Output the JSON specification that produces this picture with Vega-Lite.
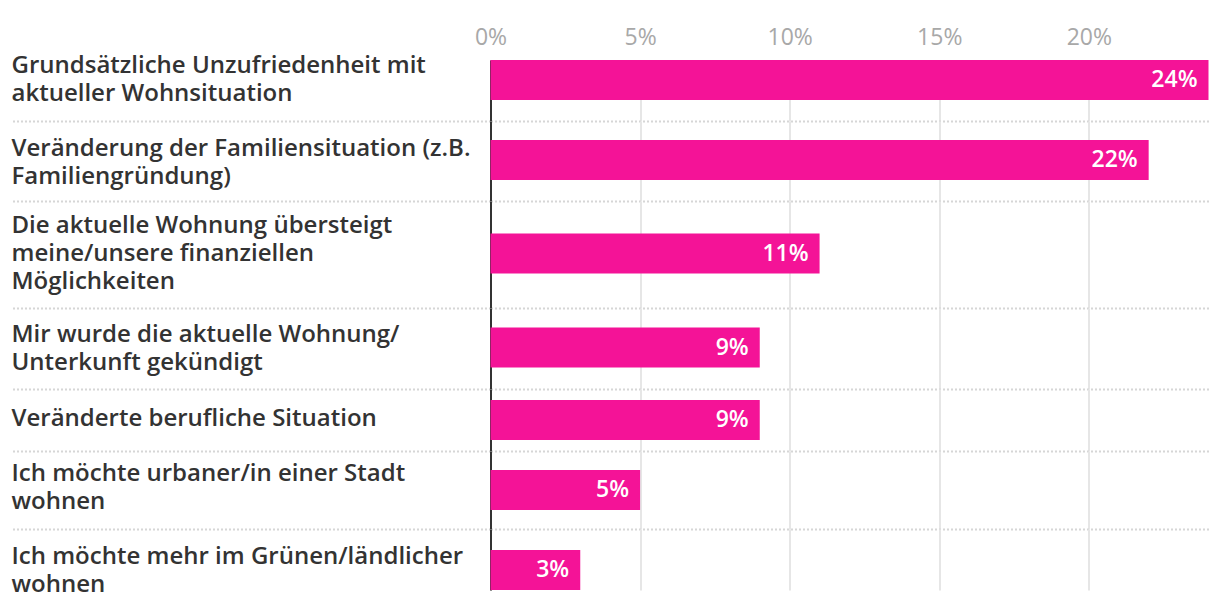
{
  "$schema": "https://vega.github.io/schema/vega-lite/v6.json",
  "padding": {"left": 10.5, "top": 26, "right": 5, "bottom": 5},
  "background": "white",
  "data": {"values": [
    {"id": 1, "label": "Grundsätzliche Unzufriedenheit mit|aktueller Wohnsituation", "value": 0.24},
    {"id": 2, "label": "Veränderung der Familiensituation (z.B.|Familiengründung)", "value": 0.22},
    {"id": 3, "label": "Die aktuelle Wohnung übersteigt|meine/unsere finanziellen|Möglichkeiten", "value": 0.11},
    {"id": 4, "label": "Mir wurde die aktuelle Wohnung/|Unterkunft gekündigt", "value": 0.09},
    {"id": 5, "label": "Veränderte berufliche Situation", "value": 0.09},
    {"id": 6, "label": "Ich möchte urbaner/in einer Stadt|wohnen", "value": 0.05},
    {"id": 7, "label": "Ich möchte mehr im Grünen/ländlicher|wohnen", "value": 0.03}
  ]},
  "spacing": 0,
  "bounds": "flush",
  "vconcat": [
    {
      "width": 718, "height": 61,
      "transform": [{"filter": "datum.id == 1"}],
      "encoding": {
        "y": {"field": "label", "type": "nominal", "scale": {"paddingInner": 0, "paddingOuter": 0}, "axis": {"labelOffset": -24.5}},
        "x": {"field": "value", "type": "quantitative", "scale": {"domain": [0, 0.24], "nice": false}, "axis": {"orient": "top", "labels": true, "values": [0, 0.05, 0.1, 0.15, 0.2], "format": ".0%", "labelPadding": 16}}
      },
      "layer": [
        {"mark": {"type": "bar", "height": 40, "yOffset": -10.5, "color": "#F41397"}},
        {"mark": {"type": "text", "align": "right", "baseline": "middle", "dx": -11, "yOffset": -10.5, "color": "white", "font": "Open Sans", "fontSize": 23, "fontWeight": 600}, "encoding": {"text": {"field": "value", "type": "quantitative", "format": ".0%"}}}
      ]
    },
    {
      "width": 718, "height": 80,
      "transform": [{"filter": "datum.id == 2"}],
      "encoding": {
        "y": {"field": "label", "type": "nominal", "scale": {"paddingInner": 0, "paddingOuter": 0}, "axis": {"labelOffset": -11.7}},
        "x": {"field": "value", "type": "quantitative", "scale": {"domain": [0, 0.24], "nice": false}, "axis": {"labels": false, "values": [0, 0.05, 0.1, 0.15, 0.2]}}
      },
      "layer": [
        {"mark": {"type": "bar", "height": 40, "yOffset": -1, "color": "#F41397"}},
        {"mark": {"type": "text", "align": "right", "baseline": "middle", "dx": -11, "yOffset": -1, "color": "white", "font": "Open Sans", "fontSize": 23, "fontWeight": 600}, "encoding": {"text": {"field": "value", "type": "quantitative", "format": ".0%"}}}
      ]
    },
    {
      "width": 718, "height": 107,
      "transform": [{"filter": "datum.id == 3"}],
      "encoding": {
        "y": {"field": "label", "type": "nominal", "scale": {"paddingInner": 0, "paddingOuter": 0}, "axis": {"labelOffset": -28.2}},
        "x": {"field": "value", "type": "quantitative", "scale": {"domain": [0, 0.24], "nice": false}, "axis": {"labels": false, "values": [0, 0.05, 0.1, 0.15, 0.2]}}
      },
      "layer": [
        {"mark": {"type": "bar", "height": 40, "yOffset": -1, "color": "#F41397"}},
        {"mark": {"type": "text", "align": "right", "baseline": "middle", "dx": -11, "yOffset": -1, "color": "white", "font": "Open Sans", "fontSize": 23, "fontWeight": 600}, "encoding": {"text": {"field": "value", "type": "quantitative", "format": ".0%"}}}
      ]
    },
    {
      "width": 718, "height": 81,
      "transform": [{"filter": "datum.id == 4"}],
      "encoding": {
        "y": {"field": "label", "type": "nominal", "scale": {"paddingInner": 0, "paddingOuter": 0}, "axis": {"labelOffset": -13.2}},
        "x": {"field": "value", "type": "quantitative", "scale": {"domain": [0, 0.24], "nice": false}, "axis": {"labels": false, "values": [0, 0.05, 0.1, 0.15, 0.2]}}
      },
      "layer": [
        {"mark": {"type": "bar", "height": 40, "yOffset": -1, "color": "#F41397"}},
        {"mark": {"type": "text", "align": "right", "baseline": "middle", "dx": -11, "yOffset": -1, "color": "white", "font": "Open Sans", "fontSize": 23, "fontWeight": 600}, "encoding": {"text": {"field": "value", "type": "quantitative", "format": ".0%"}}}
      ]
    },
    {
      "width": 718, "height": 62,
      "transform": [{"filter": "datum.id == 5"}],
      "encoding": {
        "y": {"field": "label", "type": "nominal", "scale": {"paddingInner": 0, "paddingOuter": 0}, "axis": {"labelOffset": -1.3}},
        "x": {"field": "value", "type": "quantitative", "scale": {"domain": [0, 0.24], "nice": false}, "axis": {"labels": false, "values": [0, 0.05, 0.1, 0.15, 0.2]}}
      },
      "layer": [
        {"mark": {"type": "bar", "height": 40, "yOffset": 0, "color": "#F41397"}},
        {"mark": {"type": "text", "align": "right", "baseline": "middle", "dx": -11, "yOffset": 0, "color": "white", "font": "Open Sans", "fontSize": 23, "fontWeight": 600}, "encoding": {"text": {"field": "value", "type": "quantitative", "format": ".0%"}}}
      ]
    },
    {
      "width": 718, "height": 78,
      "transform": [{"filter": "datum.id == 6"}],
      "encoding": {
        "y": {"field": "label", "type": "nominal", "scale": {"paddingInner": 0, "paddingOuter": 0}, "axis": {"labelOffset": -15.7}},
        "x": {"field": "value", "type": "quantitative", "scale": {"domain": [0, 0.24], "nice": false}, "axis": {"labels": false, "values": [0, 0.05, 0.1, 0.15, 0.2]}}
      },
      "layer": [
        {"mark": {"type": "bar", "height": 40, "yOffset": 0, "color": "#F41397"}},
        {"mark": {"type": "text", "align": "right", "baseline": "middle", "dx": -11, "yOffset": 0, "color": "white", "font": "Open Sans", "fontSize": 23, "fontWeight": 600}, "encoding": {"text": {"field": "value", "type": "quantitative", "format": ".0%"}}}
      ]
    },
    {
      "width": 718, "height": 61,
      "transform": [{"filter": "datum.id == 7"}],
      "encoding": {
        "y": {"field": "label", "type": "nominal", "scale": {"paddingInner": 0, "paddingOuter": 0}, "axis": {"labelOffset": -2.5, "tickOpacity": 0, "gridOpacity": 0}},
        "x": {"field": "value", "type": "quantitative", "scale": {"domain": [0, 0.24], "nice": false}, "axis": {"labels": false, "values": [0, 0.05, 0.1, 0.15, 0.2]}}
      },
      "layer": [
        {"mark": {"type": "bar", "height": 40, "yOffset": 10.5, "color": "#F41397"}},
        {"mark": {"type": "text", "align": "right", "baseline": "middle", "dx": -11, "yOffset": 10.5, "color": "white", "font": "Open Sans", "fontSize": 23, "fontWeight": 600}, "encoding": {"text": {"field": "value", "type": "quantitative", "format": ".0%"}}}
      ]
    }
  ],
  "config": {
    "view": {"stroke": null},
    "font": "Open Sans",
    "axisX": {
      "title": null, "domain": false, "ticks": false, "grid": true,
      "gridColor": "#e6e6e6", "gridWidth": 2,
      "labelFont": "Open Sans", "labelFontSize": 23, "labelColor": "#a8a8a8",
      "labelBaseline": "alphabetic", "labelAngle": 0, "labelFlush": false
    },
    "axisY": {
      "title": null, "zindex": 1,
      "domain": true, "domainColor": "#333333", "domainWidth": 2,
      "ticks": true, "tickSize": 478, "tickColor": "#d6d6d6", "tickWidth": 2, "tickDash": [2, 2],
      "grid": true, "gridColor": "#d6d6d6", "gridWidth": 2, "gridDash": [2, 2],
      "bandPosition": 1,
      "labelExpr": "split(datum.label, '|')",
      "labelAlign": "left", "labelBaseline": "middle", "labelPadding": 1.5,
      "labelFont": "Open Sans", "labelFontSize": 24, "labelFontWeight": 600, "labelColor": "#333333",
      "labelLineHeight": 28, "labelLimit": 0
    }
  }
}
